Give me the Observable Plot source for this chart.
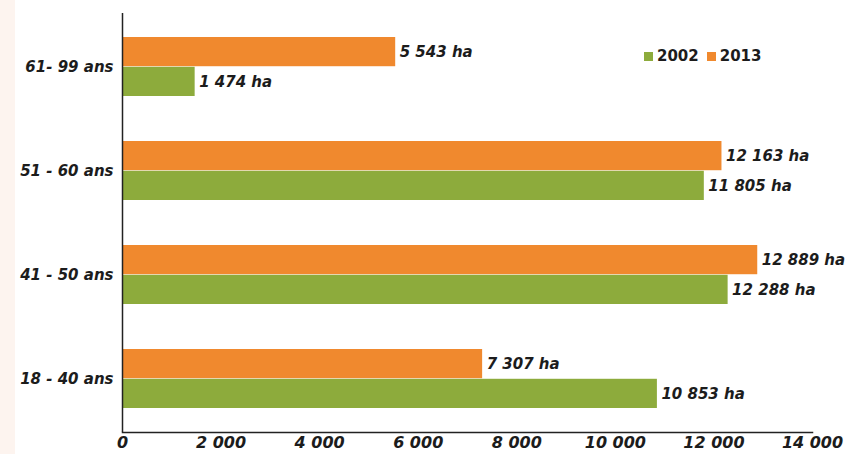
<!DOCTYPE html>
<html><head><meta charset="utf-8">
<script src="https://cdn.jsdelivr.net/npm/d3@7"></script>
<script src="https://cdn.jsdelivr.net/npm/@observablehq/plot@0.6"></script>
<style>
body{margin:0;background:#fff}
#wrap{position:relative;width:855px;height:454px;background:linear-gradient(to right,#fdf4ef 0,#fdf4ef 15px,#fff 15px)}
#wrap svg{position:absolute;left:0;top:0;background:transparent}
#wrap svg g[aria-label="x-axis tick label"] text{font-size:16px}
#legend{position:absolute;left:644px;top:47px;display:flex;align-items:center;font-family:"DejaVu Sans";font-weight:bold;font-size:15px;color:#1c1c1c}
#legend .sw{display:inline-block;width:9px;height:9px;margin-right:4px}
#legend .item{display:flex;align-items:center;margin-right:8px}
</style>
</head><body>
<div id="wrap"></div>
<script>
const categories = ["61- 99 ans","51 - 60 ans","41 - 50 ans","18 - 40 ans"];
const values2002 = [1474, 11805, 12288, 10853];
const values2013 = [5543, 12163, 12889, 7307];
const xTicks = [0, 2000, 4000, 6000, 8000, 10000, 12000, 14000];
const seriesNames = ["2002", "2013"];
const colors = {"2002": "#8dab3c", "2013": "#f0892e"};

const W = 855, H = 454, mT = 13, mB = 22, mL = 122, mR = 43;
const locale = d3.formatLocale({decimal: ",", thousands: " ", grouping: [3], currency: ["", " €"]});
const fmt = locale.format(",d");
const d2002 = categories.map((c, i) => ({c, v: values2002[i]}));
const d2013 = categories.map((c, i) => ({c, v: values2013[i]}));
const band = d3.scaleBand().domain(categories).range([mT, H - mB]).paddingInner(0.43).paddingOuter(0.22).bandwidth();
const half = band / 2;

const chart = Plot.plot({
  width: W, height: H,
  marginLeft: mL, marginRight: mR, marginTop: mT, marginBottom: mB,
  style: {fontFamily: "DejaVu Sans", fontSize: "15px", fontWeight: "bold", fontStyle: "italic", color: "#1c1c1c", background: "transparent"},
  x: {domain: [0, 14000], ticks: xTicks, tickFormat: fmt, tickSize: 0, tickPadding: 4, label: null},
  y: {domain: categories, paddingInner: 0.43, paddingOuter: 0.22, tickSize: 0, tickPadding: 9, label: null},
  marks: [
    Plot.barX(d2013, {x: "v", y: "c", fill: colors["2013"], insetBottom: half}),
    Plot.barX(d2002, {x: "v", y: "c", fill: colors["2002"], insetTop: half}),
    Plot.text(d2013, {x: "v", y: "c", text: d => fmt(d.v) + " ha", textAnchor: "start", dx: 4, dy: -half / 2, fill: "#1c1c1c"}),
    Plot.text(d2002, {x: "v", y: "c", text: d => fmt(d.v) + " ha", textAnchor: "start", dx: 4, dy: half / 2, fill: "#1c1c1c"}),
    Plot.ruleX([0], {stroke: "#222", strokeWidth: 1.5}),
    Plot.frame({anchor: "bottom", stroke: "#222", strokeWidth: 1.5})
  ]
});
document.getElementById("wrap").appendChild(chart);

const legend = document.createElement("div");
legend.id = "legend";
legend.innerHTML = seriesNames.map(s => `<span class="item"><span class="sw" style="background:${colors[s]}"></span>${s}</span>`).join("");
document.getElementById("wrap").appendChild(legend);
</script>
</body></html>
